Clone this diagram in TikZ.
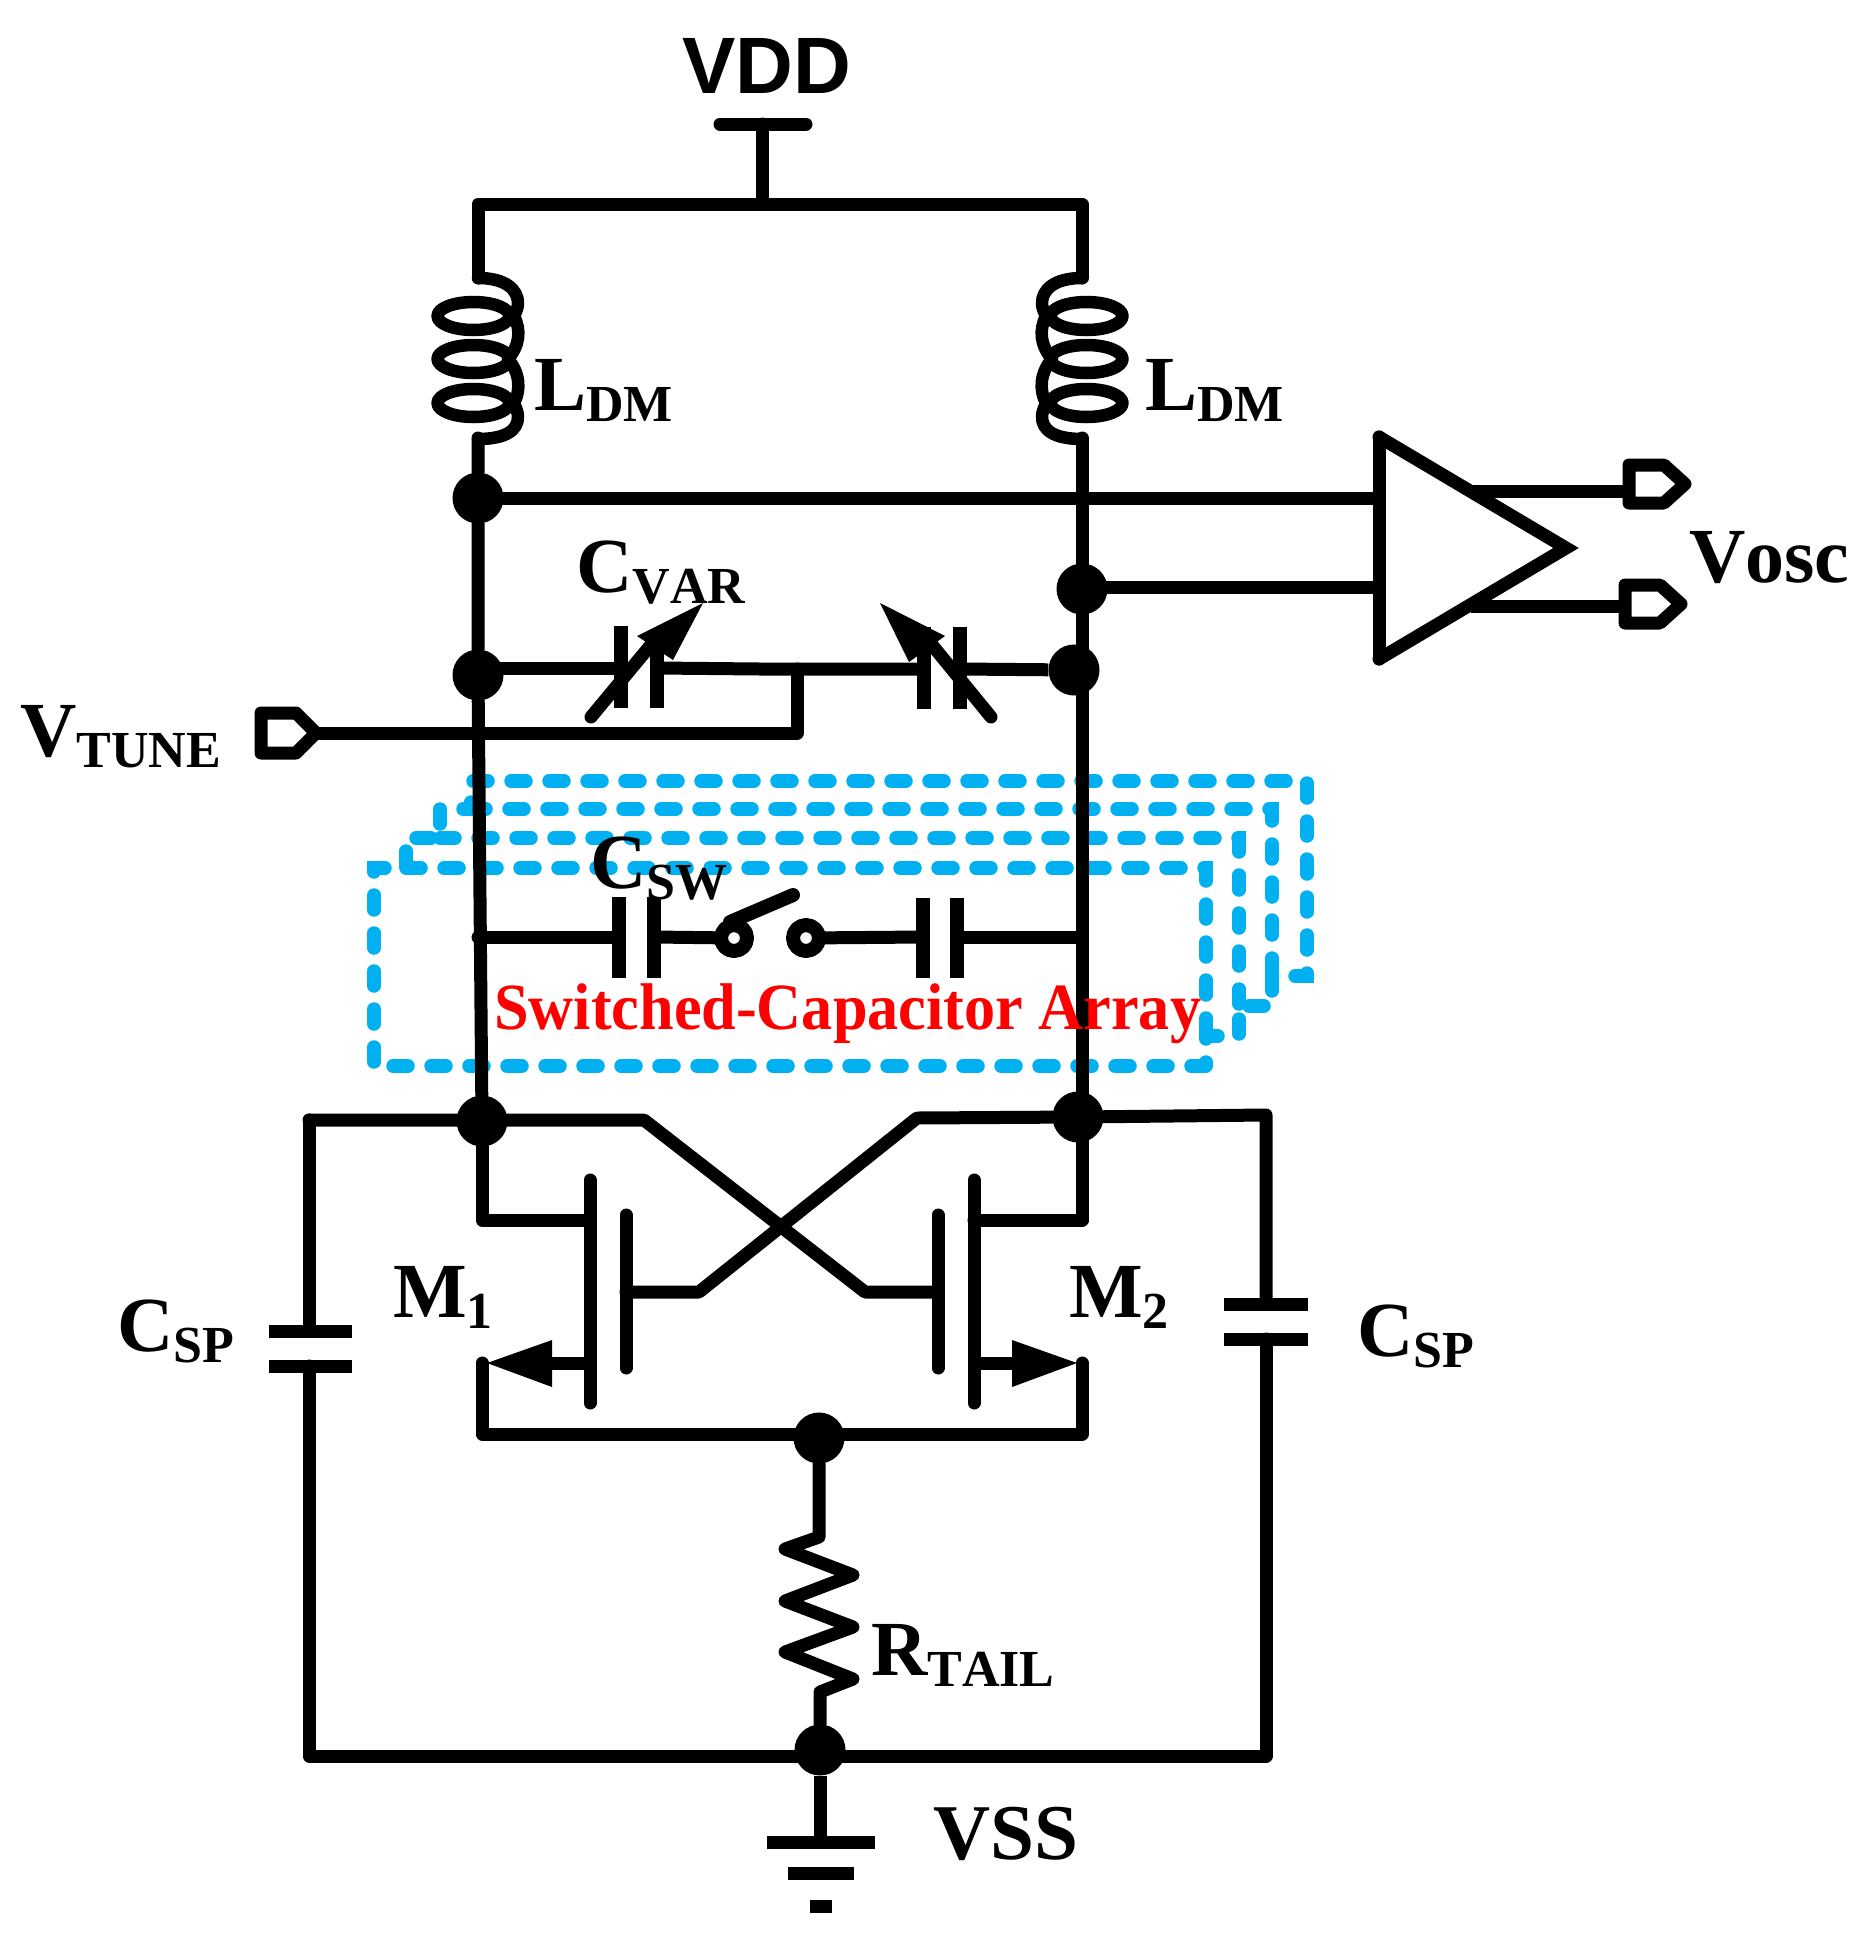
\documentclass[tikz,border=0pt]{standalone}
\usepackage{graphicx}
\usepackage{fontspec}
\setmainfont{Liberation Serif}[Kerning=Off]
\newfontfamily\vddfont{Liberation Sans}
\usetikzlibrary{arrows.meta}
\newcommand{\lab}[2]{{\fontsize{78}{78}\selectfont #1}\raisebox{-11.5pt}{\fontsize{52}{52}\selectfont #2}}
\tikzset{
  x=1pt,y=-1pt,
  wire/.style={line width=13pt,line cap=round,line join=round,black},
  plate/.style={line width=13.5pt,line cap=butt,black},
  blue wire/.style={line width=13.5pt,color=cblue,line cap=round,dash pattern=on 15pt off 23pt},
  dot/.style={circle,fill=black,inner sep=0pt,minimum size=51pt},
  lbl/.style={anchor=base west,inner sep=0pt,font=\bfseries,black},
  head/.style={fill=black,draw=none},
}
\definecolor{cblue}{HTML}{00B0F0}
\begin{document}
\begin{tikzpicture}
\useasboundingbox (0,0) rectangle (1870,1938);
% switched-capacitor array
\draw[blue wire] (1206,1066) -- (374,1066) -- (374,868) -- (406,868) -- (406,838) -- (440,838) -- (440,809) -- (471,809) -- (471,781) -- (1307,781) -- (1307,976) -- (1272,976) -- (1272,1006) -- (1239,1006) -- (1239,1036) -- (1206,1036) -- (1206,1066);
\draw[blue wire] (406,868) -- (1206,868) -- (1206,1036);
\draw[blue wire] (440,838) -- (1239,838) -- (1239,1006);
\draw[blue wire] (471,809) -- (1272,809) -- (1272,976);
% named junctions
\node[dot] (A) at (478,498) {};
\node[dot] (B) at (1082,589) {};
\node[dot] (C) at (478,675) {};
\node[dot] (D) at (1074,670) {};
\node[dot] (E) at (482,1121) {};
\node[dot] (F) at (1078,1117) {};
\node[dot] (G) at (819,1438) {};
\node[dot] (H) at (820,1750) {};
\coordinate (vddtop) at (762,124);
\coordinate (topjoin) at (762,204);
\coordinate (lt) at (478,204);
\coordinate (rt) at (1082,204);
\coordinate (lt2) at (478,278);
\coordinate (rt2) at (1082,278);
\coordinate (lb) at (478,438);
\coordinate (rb) at (1082,438);
% supply
\draw[wire] (720,124) -- (806,124);
\draw[wire] (vddtop) -- (topjoin);
\draw[wire] (lt2) -- (lt) -- (rt) -- (rt2);
% inductors
\foreach \xc/\s in {478/1,1082/-1}{
  \begin{scope}[shift={(\xc,0)},x=\s pt]
    \draw[wire,line width=12.5pt] (-4.5,316) ellipse [x radius=36,y radius=14];
    \draw[wire,line width=12.5pt] (-4.5,359) ellipse [x radius=36,y radius=14];
    \draw[wire,line width=12.5pt] (-4.5,403) ellipse [x radius=36,y radius=14];
    \draw[wire,line width=12.5pt] (0,278) .. controls (28,278) and (40,290) .. (40,303) .. controls (40,308) and (38,312) .. (36,316)
      .. controls (43,330) and (42,345) .. (30,359) .. controls (42,373) and (43,390) .. (36,403)
      .. controls (38,408) and (40,412) .. (40,417) .. controls (40,430) and (28,439) .. (0,439);
  \end{scope}}
% rails
\draw[wire] (lb) -- (A) -- (C) -- (E);
\draw[wire] (rb) -- (1082,1220);
% buffer
\coordinate (ampT) at (1379,437);
\coordinate (ampB) at (1379,659);
\coordinate (ampO) at (1566,548);
\coordinate (ampI1) at (1379,498);
\coordinate (ampI2) at (1379,587);
\draw[wire] (A) -- (ampI1);
\draw[wire] (B) ++(0,-2) -- (ampI2);
\draw[wire,line join=miter,miter limit=10] (ampT) -- (ampO) -- (ampB);
\draw[wire] (ampT) -- (ampB);
\draw[wire,line cap=butt] (1473,491) -- (1629,491);
\draw[wire,line cap=butt] (1471,606) -- (1625,606);
\draw[wire] (1629,465) -- (1664,465) -- (1685,484) -- (1664,503) -- (1629,503) -- cycle;
\draw[wire] (1625,585) -- (1660,585) -- (1681,604) -- (1660,623) -- (1625,623) -- cycle;
% varactors
\draw[wire,line cap=butt] (C) ++(0,-7) -- (621,668);
\draw[wire,line cap=butt] (657,668) -- (760,669) -- (924,669);
\draw[wire,line cap=butt] (960,669) -- (D);
\draw[plate] (621,626) -- (621,708);
\draw[plate] (657,640) -- (657,708);
\draw[plate] (924,627) -- (924,709);
\draw[plate] (960,627) -- (960,709);
\draw[wire] (591,717) -- (655,640);
\draw[head] (703,603) -- (637,636) -- (673,660) -- cycle;
\draw[wire] (991,717) -- (928,640);
\draw[head] (880,603) -- (945,636) -- (909,662) -- cycle;
% vtune
\coordinate (tunejoin) at (797,669);
\draw[wire] (316,733) -- (797,733) -- (tunejoin);
\draw[wire] (261,713) -- (296,713) -- (316,733) -- (296,753) -- (261,753) -- cycle;
% switched capacitor branch
\coordinate (swl) at (734,938);
\coordinate (swr) at (806,938);
\draw[wire] (478,937) -- (619,937);
\draw[wire,line cap=butt] (654,937) -- (swl);
\draw[wire,line cap=butt] (swr) -- (923,937);
\draw[wire,line cap=butt] (957,937) -- (1082,937);
\draw[plate] (619,897) -- (619,978);
\draw[plate] (654,897) -- (654,978);
\draw[plate] (923,898) -- (923,978);
\draw[plate] (957,898) -- (957,978);
\draw[wire,line width=14pt] (730,922) -- (793,895);
\draw[wire,line width=14pt,fill=white] (swl) circle [radius=13];
\draw[wire,line width=14pt,fill=white] (swr) circle [radius=13];
% cross-coupled pair
\draw[wire] (309,1120) -- (644,1120) -- (865,1292) -- (938,1292);
\draw[wire] (F) -- (917,1118) -- (699,1292) -- (626,1292);
\draw[wire] (E) -- (482,1220) -- (590,1220);
\draw[wire] (1082,1118) -- (1082,1220) -- (974,1220);
\draw[wire] (590,1180) -- (590,1403);
\draw[wire] (626,1215) -- (626,1368);
\draw[wire] (974,1180) -- (974,1403);
\draw[wire] (938,1215) -- (938,1368);
\draw[wire,line cap=butt] (590,1363) -- (545,1363);
\draw[wire,line cap=butt] (974,1363) -- (1020,1363);
\draw[head] (487,1363) -- (552,1340) -- (552,1387) -- cycle;
\draw[head] (1077,1363) -- (1012,1340) -- (1012,1387) -- cycle;
\draw[wire] (482,1363) -- (482,1434) -- (1082,1434) -- (1082,1363);
% tail
\draw[wire] (G) -- (819,1537) -- (785,1549) -- (853,1575) -- (785,1601) -- (853,1627) -- (785,1652) -- (853,1679) -- (820,1692) -- (H);
% outer capacitors
\draw[wire] (309,1120) -- (309,1331);
\draw[wire] (309,1366) -- (309,1756) -- (1266,1756) -- (1266,1339);
\draw[wire] (1266,1304) -- (1266,1115) -- (F);
\draw[wire,line cap=butt] (269,1331) -- (352,1331);
\draw[wire,line cap=butt] (269,1366) -- (352,1366);
\draw[wire,line cap=butt] (1224,1304) -- (1308,1304);
\draw[wire,line cap=butt] (1224,1339) -- (1308,1339);
% ground
\coordinate (gnd) at (820,1842);
\draw[wire,line cap=butt] (H) -- (gnd);
\draw[wire,line cap=butt] (767,1842) -- (875,1842);
\draw[wire,line cap=butt] (788,1873) -- (854,1873);
\draw[wire,line cap=butt] (810,1906) -- (832,1906);
% labels
\node[lbl] (vdd) at (682,93) {\vddfont\fontsize{80}{80}\selectfont VDD};
\node[lbl] (l1) at (534,410) {\lab{L}{DM}};
\node[lbl] (l2) at (1145,410) {\lab{L}{DM}};
\node[lbl] (cvar) at (576,592) {\lab{C}{VAR}};
\node[lbl] (vtune) at (20,756) {\lab{V}{TUNE}};
\node[lbl] (vosc) at (1689,582) {\fontsize{78}{78}\selectfont Vosc};
\node[lbl] (csw) at (590,888) {\lab{C}{SW}};
\node[lbl,text=red] (sca) at (494,1029) {\scalebox{.943}[1]{\fontsize{66}{66}\selectfont Switched-Capacitor Array}};
\node[lbl] (m1) at (393,1317) {\lab{M}{1}};
\node[lbl] (m2) at (1069,1317) {\lab{M}{2}};
\node[lbl] (cspl) at (117,1351) {\lab{C}{SP}};
\node[lbl] (cspr) at (1357,1356) {\lab{C}{SP}};
\node[lbl] (rtail) at (871,1675) {\lab{R}{TAIL}};
\node[lbl] (vss) at (933,1859) {\fontsize{79}{79}\selectfont VSS};
\end{tikzpicture}
\end{document}
